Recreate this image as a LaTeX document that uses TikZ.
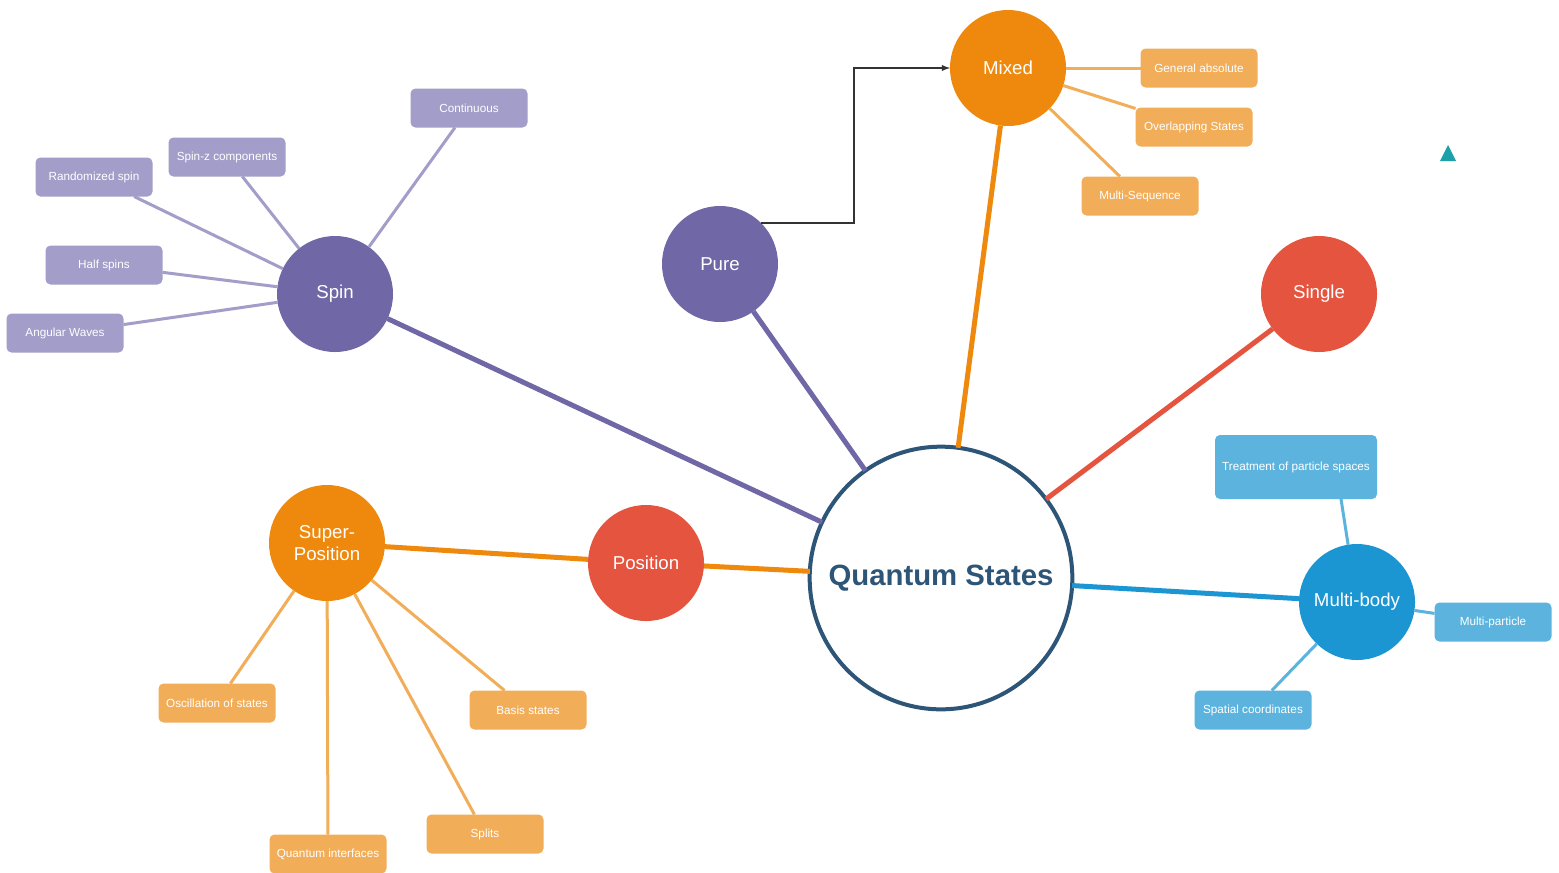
\documentclass[tikz,border=0pt]{standalone}
\usepackage{fontspec}
\setmainfont{Liberation Sans}
\usepackage{tikz}
\usetikzlibrary{shapes,arrows}

\definecolor{spinpurple}{RGB}{112,104,166}
\definecolor{spinlight}{RGB}{162,157,201}
\definecolor{mixorange}{RGB}{238,137,14}
\definecolor{mixlight}{RGB}{242,173,88}
\definecolor{singlered}{RGB}{229,84,62}
\definecolor{bodyblue}{RGB}{27,150,210}
\definecolor{bodylight}{RGB}{92,180,222}
\definecolor{corenavy}{RGB}{45,85,120}
\definecolor{marker}{RGB}{30,160,170}

\tikzset{
    bubble/.style={circle,minimum size=87pt,inner sep=0pt,outer sep=0pt,text=white,align=center,font=\fontsize{14}{17}\selectfont},
    leaf/.style={rounded corners=3.75pt,minimum width=87.75pt,minimum height=29.25pt,inner sep=1pt,outer sep=0pt,text=white,font=\fontsize{8.8}{10}\selectfont},
    trunk/.style={line width=3.75pt},
    twig/.style={line width=2.25pt},
}

\begin{document}
\begin{tikzpicture}[x=0.75pt,y=0.75pt,yscale=-1,xscale=1]
    %set diagram to 1559 x 872
    \useasboundingbox[fill=white] (0,0) rectangle (1559,872);

    %Shape: Circle [core]
    \node [circle,draw=corenavy,line width=3pt,fill=white,minimum size=197pt,outer sep=0pt,text=corenavy,font=\fontsize{22}{26}\selectfont\bfseries] (core) at (941,578) {Quantum States};

    %Shape: Circle [branches]
    \node [bubble,fill=spinpurple] (spin) at (335,294) {Spin};
    \node [bubble,fill=spinpurple] (pure) at (720,264) {Pure};
    \node [bubble,fill=mixorange] (mixed) at (1008,68) {Mixed};
    \node [bubble,fill=singlered] (single) at (1319,294) {Single};
    \node [bubble,fill=singlered] (posn) at (646,563) {Position};
    \node [bubble,fill=mixorange] (super) at (327,543) {Super-\\Position};
    \node [bubble,fill=bodyblue] (multi) at (1357,602) {Multi-body};

    %Shape: Rounded Rectangle [spin leaves]
    \node [leaf,fill=spinlight] (cont) at (469,108) {Continuous};
    \node [leaf,fill=spinlight] (spinz) at (227,157) {Spin-z components};
    \node [leaf,fill=spinlight] (rand) at (94,177) {Randomized spin};
    \node [leaf,fill=spinlight] (half) at (104,265) {Half spins};
    \node [leaf,fill=spinlight] (angw) at (65,333) {Angular Waves};
    %Shape: Rounded Rectangle [mixed leaves]
    \node [leaf,fill=mixlight] (genabs) at (1199,68) {General absolute};
    \node [leaf,fill=mixlight] (overl) at (1194,127) {Overlapping States};
    \node [leaf,fill=mixlight] (mseq) at (1140,196) {Multi-Sequence};
    %Shape: Rounded Rectangle [superposition leaves]
    \node [leaf,fill=mixlight] (osc) at (217,703) {Oscillation of states};
    \node [leaf,fill=mixlight] (basis) at (528,710) {Basis states};
    \node [leaf,fill=mixlight] (qint) at (328,854) {Quantum interfaces};
    \node [leaf,fill=mixlight] (splits) at (485,834) {Splits};
    %Shape: Rounded Rectangle [multi-body leaves]
    \node [leaf,fill=bodylight,minimum width=121.5pt,minimum height=48pt] (treat) at (1296,467) {Treatment of particle spaces};
    \node [leaf,fill=bodylight] (mpart) at (1493,622) {Multi-particle};
    \node [leaf,fill=bodylight] (spat) at (1253,710) {Spatial coordinates};
    \coordinate (treatfoot) at (1341,499);
    \coordinate (elbow) at (854,150);

    %Straight Lines [trunks]
    \draw [trunk,spinpurple] (spin) -- (core);
    \draw [trunk,spinpurple] (pure) -- (core);
    \draw [trunk,mixorange] (mixed) -- (core);
    \draw [trunk,singlered] (single) -- (core);
    \draw [trunk,bodyblue] (multi) -- (core);
    \draw [trunk,mixorange] (posn) -- (core);
    \draw [trunk,mixorange] (super) -- (posn);

    %Straight Lines [twigs]
    \draw [twig,spinlight] (spin) -- (cont);
    \draw [twig,spinlight] (spin) -- (spinz);
    \draw [twig,spinlight] (spin) -- (rand);
    \draw [twig,spinlight] (spin) -- (half);
    \draw [twig,spinlight] (spin) -- (angw);
    \draw [twig,mixlight] (mixed) -- (genabs);
    \draw [twig,mixlight] (mixed) -- (overl);
    \draw [twig,mixlight] (mixed) -- (mseq);
    \draw [twig,mixlight] (super) -- (osc);
    \draw [twig,mixlight] (super) -- (basis);
    \draw [twig,mixlight] (super) -- (qint);
    \draw [twig,mixlight] (super) -- (splits);
    \draw [twig,bodylight] (multi) -- (treatfoot);
    \draw [twig,bodylight] (multi) -- (mpart);
    \draw [twig,bodylight] (multi) -- (spat);

    %Right Angle Arrow
    \draw [line width=1.1pt,black!80,-latex] (pure.north east) -| (elbow) |- (mixed);

    %Shape: Triangle
    \fill [marker] (1440,161) -- (1448,145) -- (1456,161) -- cycle;
\end{tikzpicture}
\end{document}
